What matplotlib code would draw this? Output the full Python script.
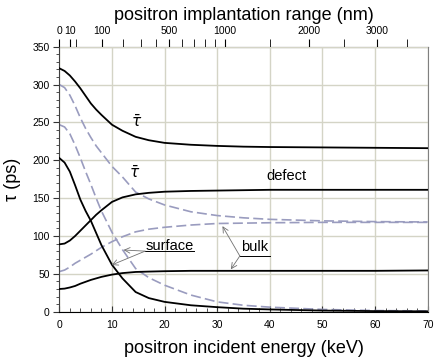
import numpy as np
import matplotlib
matplotlib.use("Agg")
import matplotlib.pyplot as plt
from matplotlib.ticker import MultipleLocator

plt.rcParams['font.family'] = ['Liberation Sans', 'DejaVu Sans']

# positron energy (keV) at which the curves were read
energy = [0, 1, 2, 3, 4, 5, 6, 7, 8, 10, 12, 14.5, 17, 20, 25, 30, 35, 40, 50, 60, 70]

# lifetimes (ps)
tau_mean = [321.5, 318, 312, 304, 295, 285, 275, 267, 260, 247, 239, 231, 226.5, 223,
            220.5, 219, 218, 217.5, 217, 216.5, 216]
tau_mean_2 = [300, 296, 286, 272, 256, 242, 230, 219, 210, 192, 178, 158, 149, 141,
              132, 127, 124, 122, 120, 119, 118.5]
defect = [89, 90, 94, 100, 107, 114, 121, 128, 134, 145, 151, 155, 157, 158.5,
          159.5, 160, 160.5, 161, 161, 161, 161]
bulk_2 = [53, 55, 59, 64, 68, 72, 76, 80.5, 85, 92.5, 99, 105.5, 109, 111.5,
          114.5, 116.5, 117, 117.5, 118, 118, 118]
surface_2 = [247, 244, 235, 220, 203, 185, 168, 150, 133, 105, 82, 57, 45, 35,
             22, 13, 8.5, 6, 3, 1.5, 1]
surface = [203, 197, 185, 167, 148, 133, 120, 104, 88, 62, 44, 26, 18, 13,
           8.5, 6, 4, 3, 1.5, 0.8, 0.5]
bulk = [30, 30.5, 32, 34, 37, 39.5, 42, 44, 46, 49, 51, 52.5, 53, 53.5,
        54, 54, 54, 54, 54, 54, 54.5]

# implantation range R = A * E^n (nm)
A_rng, n_rng = 2.937, 1.69
range_major = [0, 10, 100, 500, 1000, 2000, 3000]
range_minor = [20, 200, 300, 400, 600, 700, 800, 900, 1500, 2500, 3500]


def e2r(e):
    return A_rng * np.clip(e, 0, None) ** n_rng


def r2e(r):
    return (np.clip(r, 0, None) / A_rng) ** (1.0 / n_rng)


fig = plt.figure(figsize=(4.47, 3.63), dpi=100)
ax = fig.add_axes([0.1327, 0.1413, 0.8241, 0.7300])

dash_col = '#9a9cbf'
for y in (tau_mean, defect, surface, bulk):
    ax.plot(energy, y, color='black', lw=1.3, zorder=3)
for y in (tau_mean_2, bulk_2, surface_2):
    ax.plot(energy, y, color=dash_col, lw=1.2, dashes=(6, 2.5), zorder=2)

ax.set_xlim(0, 70)
ax.set_ylim(0, 350)
ax.xaxis.set_major_locator(MultipleLocator(10))
ax.xaxis.set_minor_locator(MultipleLocator(2))
ax.yaxis.set_major_locator(MultipleLocator(50))
ax.yaxis.set_minor_locator(MultipleLocator(10))
ax.grid(True, which='major', color='#d4d4c6', lw=1.0)
ax.set_axisbelow(True)

ax.tick_params(axis='x', which='major', direction='in', length=4, labelsize=7.5,
               pad=6, color='#333333')
ax.tick_params(axis='x', which='minor', direction='in', length=3, color='#333333')
ax.tick_params(axis='y', which='major', direction='out', length=4, labelsize=7.5,
               pad=3, color='#333333')
ax.tick_params(axis='y', which='minor', direction='out', length=2.5, color='#333333')

ax.spines['right'].set_color('#808080')
ax.spines['top'].set_visible(False)
ax.spines['left'].set_color('#404040')

sec = ax.secondary_xaxis('top', functions=(e2r, r2e))
sec.set_xticks(range_major)
sec.set_xticks(range_minor, minor=True)
sec.tick_params(which='both', direction='out', length=6, labelsize=7.5, pad=2)
sec.set_xlabel('positron implantation range (nm)', fontsize=13, labelpad=4)

ax.set_xlabel('positron incident energy (keV)', fontsize=13, labelpad=7)
ax.set_ylabel('τ (ps)', fontsize=13, labelpad=8)

# curve labels
ax.text(14.7, 251, r'$\bar{\tau}$', fontsize=11, ha='center', va='center')
ax.text(14.4, 183, r'$\bar{\tau}$', fontsize=11, ha='center', va='center')
ax.text(43.2, 179, 'defect', fontsize=10.5, ha='center', va='center')
ax.text(21, 87, 'surface', fontsize=10.5, ha='center', va='center')
ax.text(37.2, 86, 'bulk', fontsize=10.5, ha='center', va='center')

# underlines and pointers
ax.plot([16.3, 25.5], [80, 80], color='black', lw=0.7)
ax.plot([34.3, 40], [73.6, 73.6], color='black', lw=0.7)
arrow = dict(arrowstyle='->', color='#707070', lw=0.6, shrinkA=0, shrinkB=0)
ax.annotate('', xy=(12.2, 81.5), xytext=(16.3, 80), arrowprops=arrow)
ax.annotate('', xy=(9.95, 61.7), xytext=(16.3, 80), arrowprops=arrow)
ax.annotate('', xy=(31, 113), xytext=(34.3, 73.6), arrowprops=arrow)
ax.annotate('', xy=(32.6, 56), xytext=(34.3, 73.6), arrowprops=arrow)

fig.savefig('out.png', dpi=100)
